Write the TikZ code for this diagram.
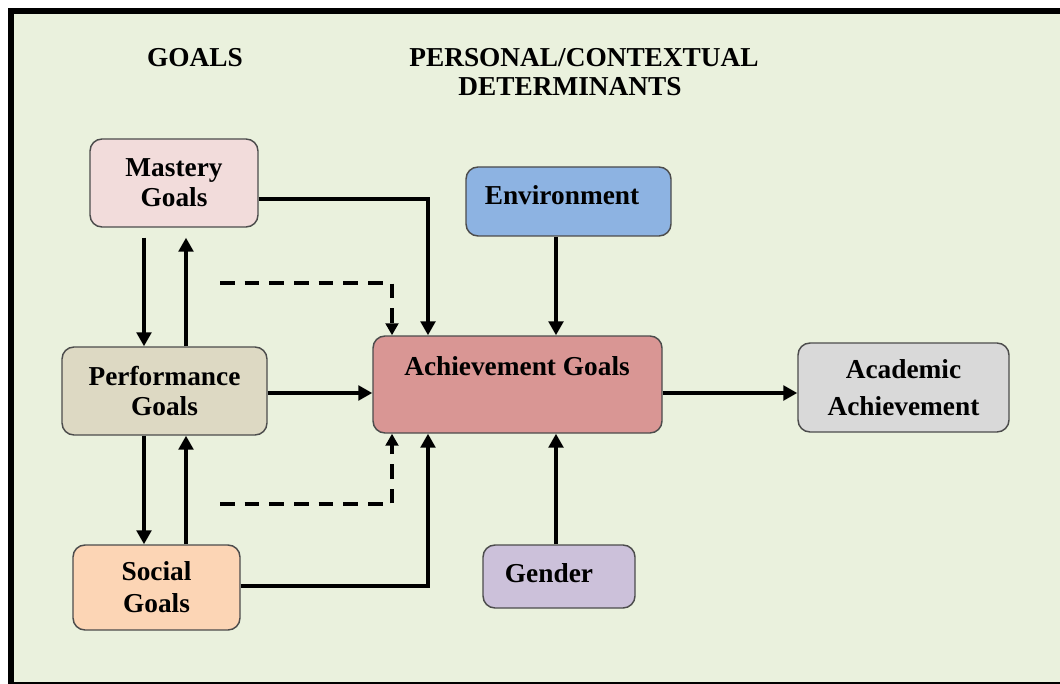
\documentclass[tikz,border=0pt]{standalone}
\usepackage{fontspec}
\setmainfont{Liberation Serif}
\usetikzlibrary{arrows.meta,calc}
\definecolor{bg}{HTML}{EAF1DD}
\definecolor{mastery}{HTML}{F2DCDB}
\definecolor{perf}{HTML}{DDD9C3}
\definecolor{social}{HTML}{FCD5B5}
\definecolor{achv}{HTML}{D99694}
\definecolor{envc}{HTML}{8DB3E2}
\definecolor{genc}{HTML}{CCC1DA}
\definecolor{acad}{HTML}{D9D9D9}
\begin{document}
\begin{tikzpicture}[x=0.75pt,y=-0.75pt,
  box/.style={draw=black!70, line width=1.1pt, rounded corners=9pt, inner sep=0pt, align=center},
  bf/.style={font=\bfseries\fontsize{20.5}{#1}\selectfont},
  txt/.style={inner sep=0pt, font=\bfseries\fontsize{20.5}{24}\selectfont},
  arr/.style={line width=3.2pt, -{Triangle[length=10.5pt,width=11pt]}},
  darr/.style={line width=2.5pt, dash pattern=on 11pt off 7.5pt, -{Triangle[length=9pt,width=9.5pt]}}]
\useasboundingbox (0,0) rectangle (1060,684);
\fill[white] (0,0) rectangle (1060,684);
\fill[bg] (14,14) rectangle (1060,682);
\fill[black] (8,8) rectangle (1060,14);
\fill[black] (8,8) rectangle (14,684);
\fill[black] (8,682) rectangle (1060,684);

% headings
\node[txt] (hgoals) at (195,58) {GOALS};
\node[txt] (hpers1) at (584,58) {PERSONAL/CONTEXTUAL};
\node[txt] (hpers2) at (570,87) {DETERMINANTS};

% boxes
\node[box, bf=22.5, fill=mastery, minimum width=126pt, minimum height=66pt] (mg) at (174,183) {Mastery\\Goals};
\node[box, bf=22.5, fill=perf, minimum width=153.75pt, minimum height=66pt] (pg) at (164.5,391) {Performance\\Goals};
\node[box, bf=24, fill=social, minimum width=125.25pt, minimum height=63.75pt] (sg) at (156.5,587.5) {Social\\Goals};
\node[box, fill=achv, minimum width=216.75pt, minimum height=72.75pt] (ag) at (517.5,384.5) {};
\node[txt] (agt) at (517,366) {Achievement Goals};
\node[box, fill=envc, minimum width=153.75pt, minimum height=51.75pt] (env) at (568.5,201.5) {};
\node[txt] (envt) at (562,195) {Environment};
\node[box, fill=genc, minimum width=114pt, minimum height=47.25pt] (gen) at (559,576.5) {};
\node[txt] (gent) at (549,573) {Gender};
\node[box, bf=27.75, fill=acad, minimum width=158.25pt, minimum height=66.75pt] (aa) at (903.5,387.5) {Academic\\Achievement};

% helper coordinates
\coordinate (c144) at (144,0);
\coordinate (c186) at (186,0);
\coordinate (c392) at (392,0);
\coordinate (c428) at (428,0);
\coordinate (c556) at (556,0);
\coordinate (r393) at (0,393);
\coordinate (dt) at (220,283);
\coordinate (db) at (220,504);

% connectors
\draw[arr, shorten <=7.5pt] (mg.south -| c144) -- (pg.north -| c144);
\draw[arr, shorten >=7.5pt] (pg.north -| c186) -- (mg.south -| c186);
\draw[arr] (pg.south -| c144) -- (sg.north -| c144);
\draw[arr] (sg.north -| c186) -- (pg.south -| c186);
\draw[arr] ($(mg.east)+(0,16)$) -| (ag.north -| c428);
\draw[arr] ($(sg.east)+(0,-1.5)$) -| (ag.south -| c428);
\draw[arr] (pg.east |- r393) -- (ag.west |- r393);
\draw[arr] (ag.east |- r393) -- (aa.west |- r393);
\draw[arr] (env.south -| c556) -- (ag.north -| c556);
\draw[arr] (gen.north -| c556) -- (ag.south -| c556);
\draw[darr] (dt) -| (ag.north -| c392);
\draw[darr] (db) -| (ag.south -| c392);
\end{tikzpicture}
\end{document}
